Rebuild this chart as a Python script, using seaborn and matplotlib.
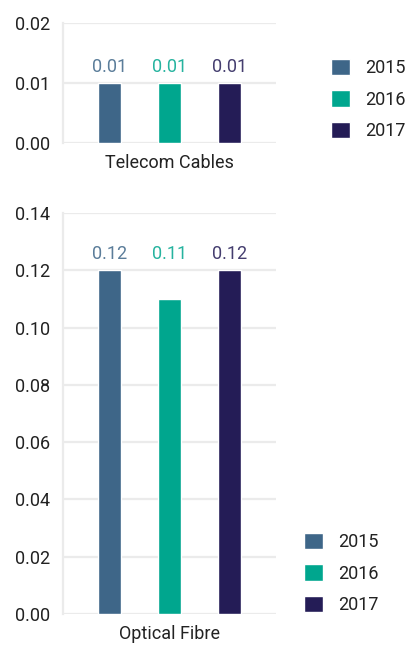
import seaborn as sns
import matplotlib.pyplot as plt
import pandas as pd
from matplotlib.ticker import FormatStrFormatter

years = ['2015', '2016', '2017']
telecom_cables = [0.01, 0.01, 0.01]
optical_fibre = [0.12, 0.11, 0.12]
colors = ['#3e6688', '#00a68e', '#241c56']

sns.set_style('white')
plt.rcParams['font.family'] = ['Roboto', 'DejaVu Sans']
plt.rcParams['text.color'] = '#222222'

fig = plt.figure(figsize=(4.05, 6.51), dpi=100)
ax1 = fig.add_axes([0.1556, 0.7803, 0.526, 0.1843])
ax2 = fig.add_axes([0.1556, 0.0568, 0.526, 0.616])

panels = [
    (ax1, 'Telecom Cables', telecom_cables, [0, 0.01, 0.02], (0.817, 0.910)),
    (ax2, 'Optical Fibre', optical_fibre, [0, 0.02, 0.04, 0.06, 0.08, 0.10, 0.12, 0.14], (0.751, 0.182)),
]

for ax, name, values, ticks, legend_pos in panels:
    df = pd.DataFrame({'category': [name] * 3, 'year': years, 'value': values})
    sns.barplot(data=df, x='category', y='value', hue='year', palette=colors,
                width=0.8, gap=0.62, saturation=1, ax=ax)
    # all value labels sit on one line just above the tallest bar
    top = max(values)
    for cont, c, v in zip(ax.containers, colors, values):
        bar = cont.patches[0]
        ax.annotate(f'{v:.2f}', (bar.get_x() + bar.get_width() / 2, top),
                    xytext=(0, 5), textcoords='offset points', ha='center', va='bottom',
                    color=c, alpha=0.85, fontsize=13)
    ax.set_ylim(ticks[0], ticks[-1])
    ax.set_yticks(ticks)
    ax.yaxis.set_major_formatter(FormatStrFormatter('%.2f'))
    ax.set_xlim(-0.473, 0.473)
    ax.grid(axis='y', color='#ebebeb', linewidth=1.6)
    ax.set_axisbelow(True)
    for s in ['top', 'right', 'bottom']:
        ax.spines[s].set_visible(False)
    ax.spines['left'].set_color('#ebebeb')
    ax.spines['left'].set_linewidth(1.6)
    ax.tick_params(axis='y', length=0, pad=9, labelsize=13, labelcolor='#222222')
    ax.tick_params(axis='x', length=0, pad=8, labelsize=13, labelcolor='#222222')
    ax.set_xlabel('')
    ax.set_ylabel('')
    handles, labels = ax.get_legend_handles_labels()
    ax.legend(handles, labels, loc='upper left', bbox_to_anchor=legend_pos,
              bbox_transform=fig.transFigure, frameon=False, borderpad=0,
              borderaxespad=0, fontsize=13, handlelength=1.05, handleheight=1.05,
              handletextpad=0.85, labelspacing=0.72)

fig.savefig('out.png', dpi=100)
